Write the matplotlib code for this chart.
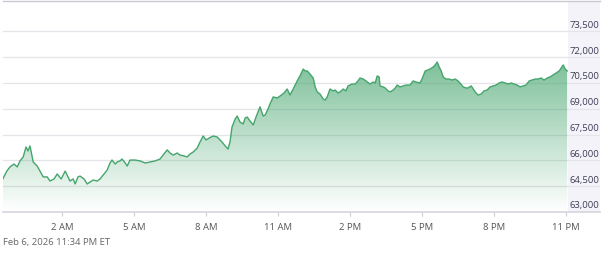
import matplotlib.pyplot as plt
import numpy as np
from matplotlib.patches import Polygon, Rectangle

plt.rcParams['font.family'] = ['Open Sans', 'DejaVu Sans']

# minutes after midnight (Feb 6) and price
minutes = [-28, -18, -10, 0, 8, 15, 23, 30, 35, 40, 48, 58, 65, 73, 83, 90, 100, 108, 118, 128,
           135, 140, 148, 153, 160, 165, 175, 183, 190, 198, 208, 215, 225, 233, 240, 245, 253, 258, 265, 270,
           278, 283, 290, 303, 315, 328, 340, 353, 365, 375, 383, 390, 398, 408, 415, 425, 433, 440, 448, 458,
           465, 473, 480, 488, 498, 508, 515, 520, 528, 535, 540, 545, 553, 558, 565, 573, 578, 583, 590, 598,
           605, 615, 623, 628, 635, 640, 648, 658, 665, 675, 683, 690, 698, 708, 715, 723, 728, 733, 740, 748,
           753, 758, 765, 773, 778, 783, 790, 798, 803, 810, 815, 823, 830, 835, 845, 853, 860, 865, 873, 880,
           890, 898, 903, 908, 913, 915, 923, 928, 935, 940, 948, 953, 958, 965, 973, 980, 990, 998, 1005, 1015,
           1020, 1028, 1035, 1040, 1048, 1053, 1058, 1063, 1068, 1073, 1080, 1088, 1095, 1103, 1110, 1115, 1123, 1130, 1135, 1143,
           1148, 1153, 1160, 1168, 1175, 1183, 1190, 1198, 1205, 1213, 1220, 1228, 1235, 1243, 1250, 1258, 1265, 1273, 1280, 1288,
           1295, 1303, 1310, 1318, 1325, 1333, 1340, 1348, 1355, 1363, 1368, 1373, 1378, 1383]
prices = [64920, 65380, 65620, 65790, 65620, 65970, 66200, 66780, 66550, 66840, 65910, 65670, 65380, 65040, 65040, 64800, 64920, 65210, 64920, 65380,
          65040, 64800, 64920, 64630, 65040, 65090, 64920, 64630, 64740, 64860, 64800, 64920, 65210, 65440, 65850, 66020, 65790, 65910, 65970, 66080,
          65850, 65670, 66020, 66020, 65970, 65850, 65910, 65970, 66080, 66370, 66610, 66430, 66310, 66430, 66310, 66260, 66200, 66370, 66490, 66720,
          67070, 67420, 67190, 67300, 67420, 67360, 67190, 67070, 66840, 66660, 67070, 67940, 68410, 68580, 68230, 68120, 68470, 68520, 68290, 68060,
          68520, 69110, 68580, 68640, 68990, 69280, 69690, 69630, 69740, 69920, 70150, 69800, 70150, 70620, 70910, 71310, 71200, 71200, 71020, 70790,
          70270, 69980, 69860, 69570, 69510, 69690, 70150, 70040, 70090, 69920, 69980, 70150, 70040, 70330, 70440, 70440, 70620, 70790, 70730, 70620,
          70440, 70560, 70500, 70910, 70850, 70330, 70270, 70210, 70040, 69980, 70090, 70210, 70380, 70270, 70330, 70380, 70380, 70620, 70560, 70500,
          70730, 71200, 71260, 71310, 71430, 71550, 71720, 71430, 71200, 70850, 70730, 70730, 70670, 70730, 70620, 70500, 70270, 70210, 70210, 70330,
          70150, 69980, 69800, 69860, 70040, 70090, 70270, 70330, 70380, 70500, 70560, 70500, 70440, 70500, 70440, 70380, 70270, 70330, 70380, 70620,
          70670, 70730, 70730, 70790, 70670, 70790, 70850, 70970, 71080, 71200, 71370, 71550, 71310, 71200]

tick_minutes = [120, 300, 480, 660, 840, 1020, 1200, 1380]
tick_labels = ["2 AM", "5 AM", "8 AM", "11 AM", "2 PM", "5 PM", "8 PM", "11 PM"]
price_levels = [63000, 64500, 66000, 67500, 69000, 70500, 72000, 73500]
stamp = "Feb 6, 2026 11:34 PM ET"

W, H = 606, 255
fig = plt.figure(figsize=(W / 100, H / 100), dpi=100)
ax = fig.add_axes([3 / W, 42 / H, 597 / W, 211 / H])

x0, x1 = -27.5, 1465
y0, y1 = 63000, 75267
panel_left = 1385
ax.set_xlim(x0, x1)
ax.set_ylim(y0, y1)

# right label panel
ax.add_patch(Rectangle((panel_left, y0), x1 - panel_left, y1 - y0, facecolor="#f4f3f9",
                       edgecolor="none", zorder=0))

for p in price_levels[1:]:
    ax.axhline(p, color="#e4e4ea", lw=0.9, zorder=1)
for p in price_levels:
    ax.text(panel_left + 3, p + 150, f"{p:,}", fontsize=6.8, color="#3d3d55",
            ha="left", va="bottom", zorder=5)

# gradient fill under the line
green = np.array([0.30, 0.66, 0.45])
grad = np.zeros((256, 2, 4))
grad[..., :3] = green
grad[..., 3] = np.linspace(0.75, 0.0, 256)[:, None]
ymax = max(prices) + 300
img = ax.imshow(grad, extent=[minutes[0], minutes[-1], y0, ymax], aspect="auto",
                origin="upper", zorder=2, interpolation="bilinear")
poly = Polygon(list(zip(minutes, prices)) + [(minutes[-1], y0), (minutes[0], y0)],
               closed=True, facecolor="none", edgecolor="none")
ax.add_patch(poly)
img.set_clip_path(poly)

ax.plot(minutes, prices, color="#45a56c", lw=1.0, zorder=3)

for s in ["left", "right"]:
    ax.spines[s].set_visible(False)
ax.spines["top"].set_color("#c9c9d3")
ax.spines["top"].set_linewidth(1.0)
ax.spines["bottom"].set_color("#d6d6de")
ax.spines["bottom"].set_linewidth(1.2)

ax.set_yticks([])
ax.set_xticks(tick_minutes)
ax.set_xticklabels(tick_labels, fontsize=6.8, color="#555555")
ax.tick_params(axis="x", length=3, width=0.8, color="#cfcfd6", pad=4)

fig.text(3 / W, 1 - 243 / H, stamp, fontsize=6.8, color="#666666", va="center", ha="left")

fig.savefig("out.png", dpi=100)
